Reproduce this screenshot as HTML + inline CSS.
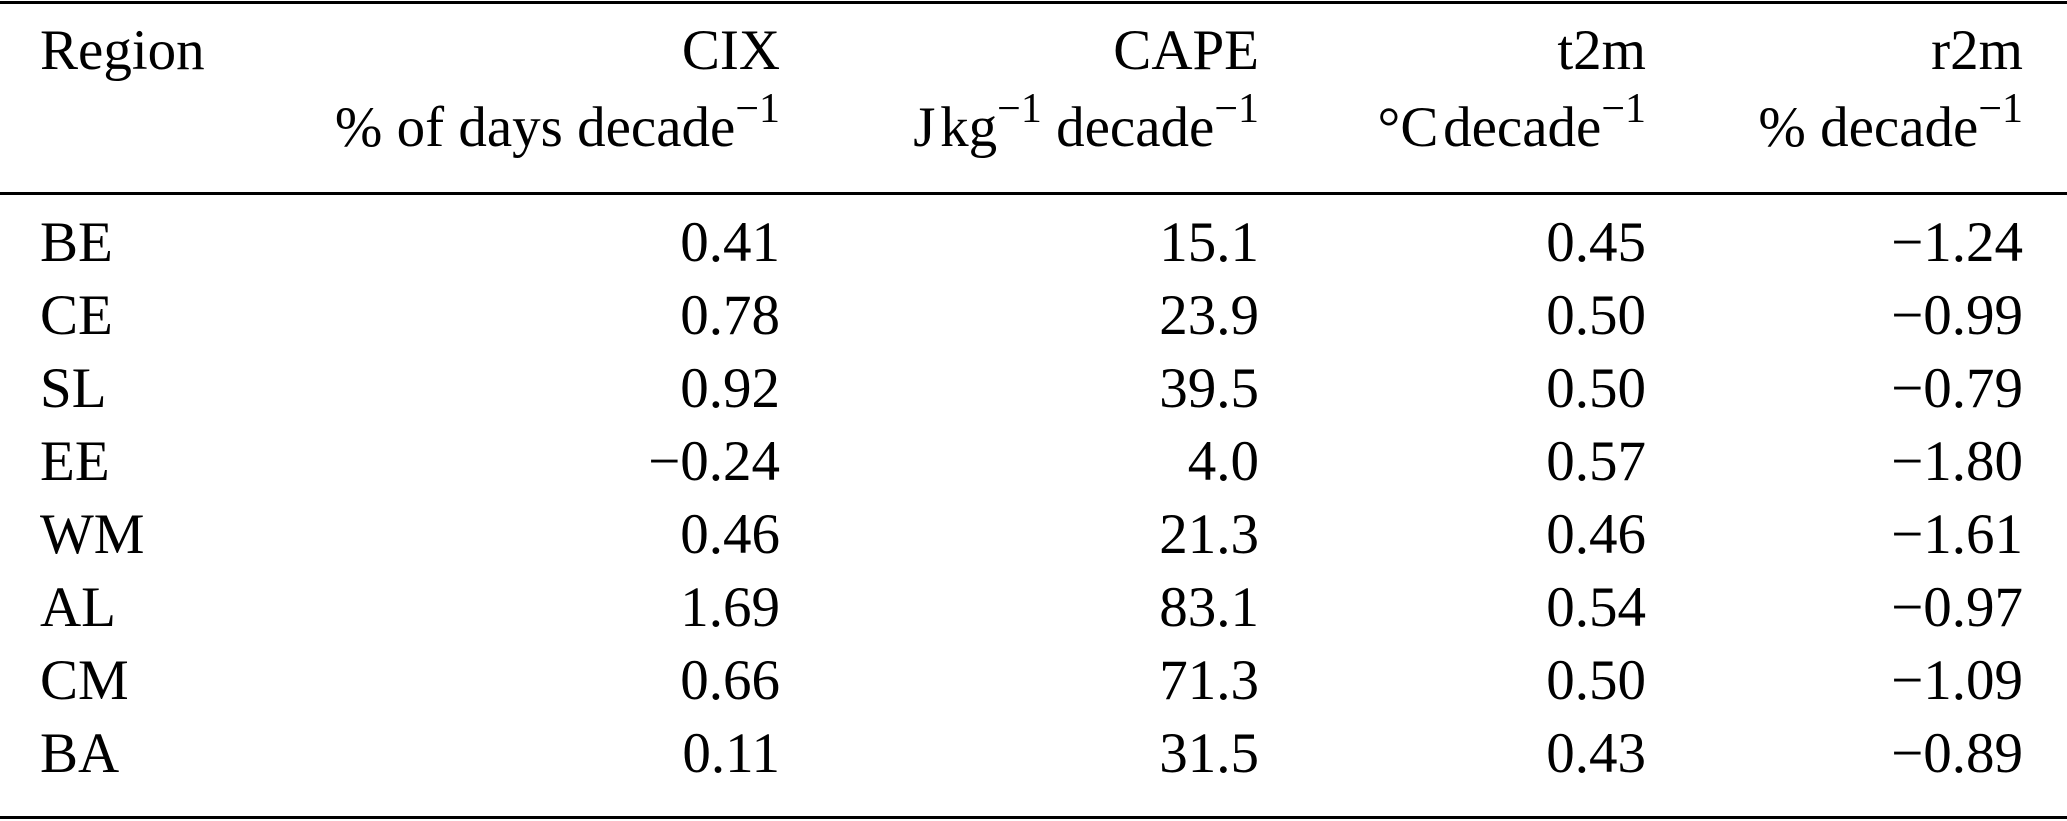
<!DOCTYPE html>
<html><head><meta charset="utf-8"><style>
html,body{margin:0;padding:0;background:#fff;}
body{width:2067px;height:821px;position:relative;overflow:hidden;font-family:"Liberation Serif",serif;font-size:57px;color:#000;}
.l{position:absolute;left:0;width:2067px;background:#000;}
.t{position:absolute;white-space:nowrap;line-height:1;}
.r{text-align:right;}
sup{font-size:42px;vertical-align:0;position:relative;top:-24px;}
</style></head><body>
<div class="l" style="top:1px;height:3px"></div>
<div class="l" style="top:192px;height:3px"></div>
<div class="l" style="top:816px;height:3px"></div>
<div id="c"></div>
<script>
const rows=[["BE","0.41","15.1","0.45","−1.24"],["CE","0.78","23.9","0.50","−0.99"],["SL","0.92","39.5","0.50","−0.79"],["EE","−0.24","4.0","0.57","−1.80"],["WM","0.46","21.3","0.46","−1.61"],["AL","1.69","83.1","0.54","−0.97"],["CM","0.66","71.3","0.50","−1.09"],["BA","0.11","31.5","0.43","−0.89"]];
const rights=[780,1259,1646,2023];
let h="";
function cell(txt,base,right,left){
 const top=base-51;
 if(left!==undefined) return `<div class="t" style="left:${left}px;top:${top}px">${txt}</div>`;
 return `<div class="t r" style="right:${2067-right}px;top:${top}px">${txt}</div>`;
}
h+=cell("Region",73,0,40);
["CIX","CAPE","t2m","r2m"].forEach((s,i)=>h+=cell(s,73,rights[i]));
const u=["% of days decade<sup>−1</sup>","J&#8202;kg<sup>−1</sup> decade<sup>−1</sup>","°C&#8202;decade<sup>−1</sup>","% decade<sup>−1</sup>"];
u.forEach((s,i)=>h+=cell(s,150,rights[i]));
rows.forEach((r,k)=>{const b=265+k*73;h+=cell(r[0],b,0,40);for(let i=1;i<5;i++)h+=cell(r[i],b,rights[i-1]);});
document.getElementById("c").innerHTML=h;
</script>
</body></html>
